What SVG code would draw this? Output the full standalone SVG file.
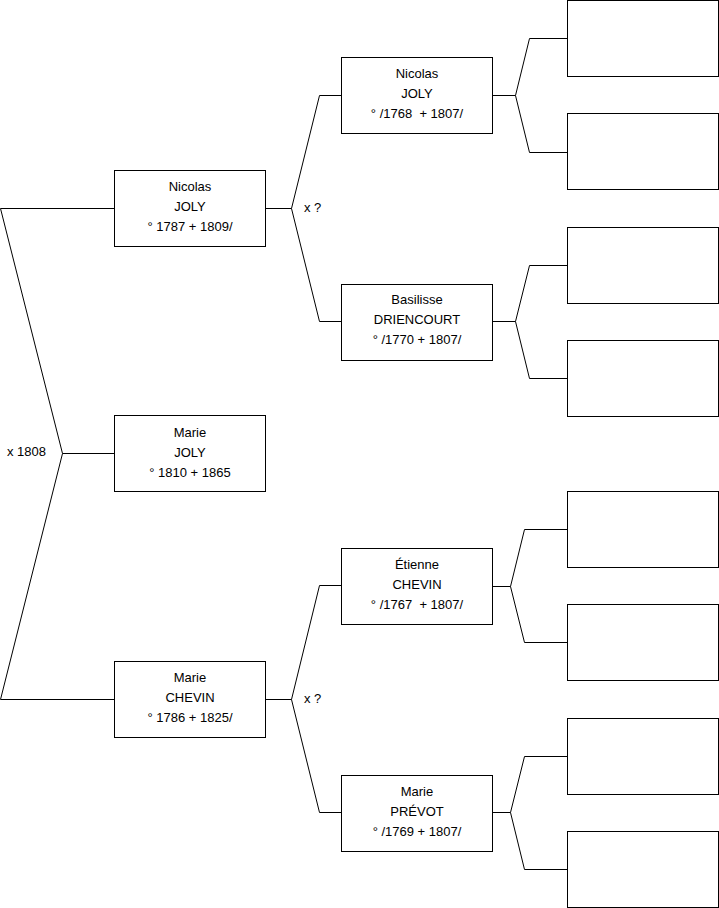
<svg xmlns="http://www.w3.org/2000/svg" width="719" height="908" viewBox="0 0 719 908">
<style>
.box{fill:#fff;stroke:#000;stroke-width:1}
.ln{fill:none;stroke:#000;stroke-width:1}
text{font-family:"Liberation Sans",Arial,sans-serif;font-size:13px;fill:#000;white-space:pre}
.c{text-anchor:middle;dominant-baseline:central}
.l{dominant-baseline:central}
</style>
<rect width="719" height="908" fill="#fff"/>
<g id="connectors">
<polyline class="ln" points="0.5,208.5 114.5,208.5"/>
<polyline class="ln" points="0.5,208.5 62.5,453.5 114.5,453.5"/>
<polyline class="ln" points="0.5,699.5 62.5,453.5"/>
<polyline class="ln" points="0.5,699.5 114.5,699.5"/>
<polyline class="ln" points="265.5,208.5 291.5,208.5"/>
<polyline class="ln" points="341.5,95.5 319.5,95.5 291.5,208.5 319.5,321.5 341.5,321.5"/>
<polyline class="ln" points="265.5,699.5 291.5,699.5"/>
<polyline class="ln" points="341.5,585.5 319.5,585.5 291.5,699.5 319.5,812.5 341.5,812.5"/>
<polyline class="ln" points="492.5,95.5 515.5,95.5"/>
<polyline class="ln" points="567.5,38.5 529.5,38.5 515.5,95.5 529.5,152.5 567.5,152.5"/>
<polyline class="ln" points="492.5,321.5 515.5,321.5"/>
<polyline class="ln" points="567.5,265.5 529.5,265.5 515.5,321.5 529.5,378.5 567.5,378.5"/>
<polyline class="ln" points="492.5,586.5 510.5,586.5"/>
<polyline class="ln" points="567.5,529.5 524.5,529.5 510.5,586.5 524.5,642.5 567.5,642.5"/>
<polyline class="ln" points="492.5,812.5 510.5,812.5"/>
<polyline class="ln" points="567.5,756.5 524.5,756.5 510.5,812.5 524.5,869.5 567.5,869.5"/>
<text class="l" x="7" y="451">x 1808</text>
<text class="l" x="304" y="207">x ?</text>
<text class="l" x="304" y="698">x ?</text>
</g>
<g id="n_nicolas_joly_1787">
<rect class="box" x="114.5" y="170.5" width="151" height="76"/>
<text class="c" x="190" y="186">Nicolas</text>
<text class="c" x="190" y="206">JOLY</text>
<text class="c" x="190" y="226">° 1787 + 1809/</text>
</g>
<g id="n_marie_joly">
<rect class="box" x="114.5" y="415.5" width="151" height="76"/>
<text class="c" x="190" y="432">Marie</text>
<text class="c" x="190" y="452">JOLY</text>
<text class="c" x="190" y="472">° 1810 + 1865</text>
</g>
<g id="n_marie_chevin">
<rect class="box" x="114.5" y="661.5" width="151" height="76"/>
<text class="c" x="190" y="677">Marie</text>
<text class="c" x="190" y="697">CHEVIN</text>
<text class="c" x="190" y="717">° 1786 + 1825/</text>
</g>
<g id="n_nicolas_joly_1768">
<rect class="box" x="341.5" y="57.5" width="151" height="76"/>
<text class="c" x="417" y="73">Nicolas</text>
<text class="c" x="417" y="93">JOLY</text>
<text class="c" x="417" y="113">° /1768  + 1807/</text>
</g>
<g id="n_basilisse">
<rect class="box" x="341.5" y="284.5" width="151" height="76"/>
<text class="c" x="417" y="299">Basilisse</text>
<text class="c" x="417" y="319">DRIENCOURT</text>
<text class="c" x="417" y="339">° /1770 + 1807/</text>
</g>
<g id="n_etienne">
<rect class="box" x="341.5" y="548.5" width="151" height="76"/>
<text class="c" x="417" y="564">Étienne</text>
<text class="c" x="417" y="584">CHEVIN</text>
<text class="c" x="417" y="604">° /1767  + 1807/</text>
</g>
<g id="n_marie_prevot">
<rect class="box" x="341.5" y="775.5" width="151" height="76"/>
<text class="c" x="417" y="791">Marie</text>
<text class="c" x="417" y="811">PRÉVOT</text>
<text class="c" x="417" y="831">° /1769 + 1807/</text>
</g>
<g id="g3_1"><rect class="box" x="567.5" y="0.5" width="151" height="76"/></g>
<g id="g3_2"><rect class="box" x="567.5" y="113.5" width="151" height="76"/></g>
<g id="g3_3"><rect class="box" x="567.5" y="227.5" width="151" height="76"/></g>
<g id="g3_4"><rect class="box" x="567.5" y="340.5" width="151" height="76"/></g>
<g id="g3_5"><rect class="box" x="567.5" y="491.5" width="151" height="76"/></g>
<g id="g3_6"><rect class="box" x="567.5" y="604.5" width="151" height="76"/></g>
<g id="g3_7"><rect class="box" x="567.5" y="718.5" width="151" height="76"/></g>
<g id="g3_8"><rect class="box" x="567.5" y="831.5" width="151" height="76"/></g>
</svg>
